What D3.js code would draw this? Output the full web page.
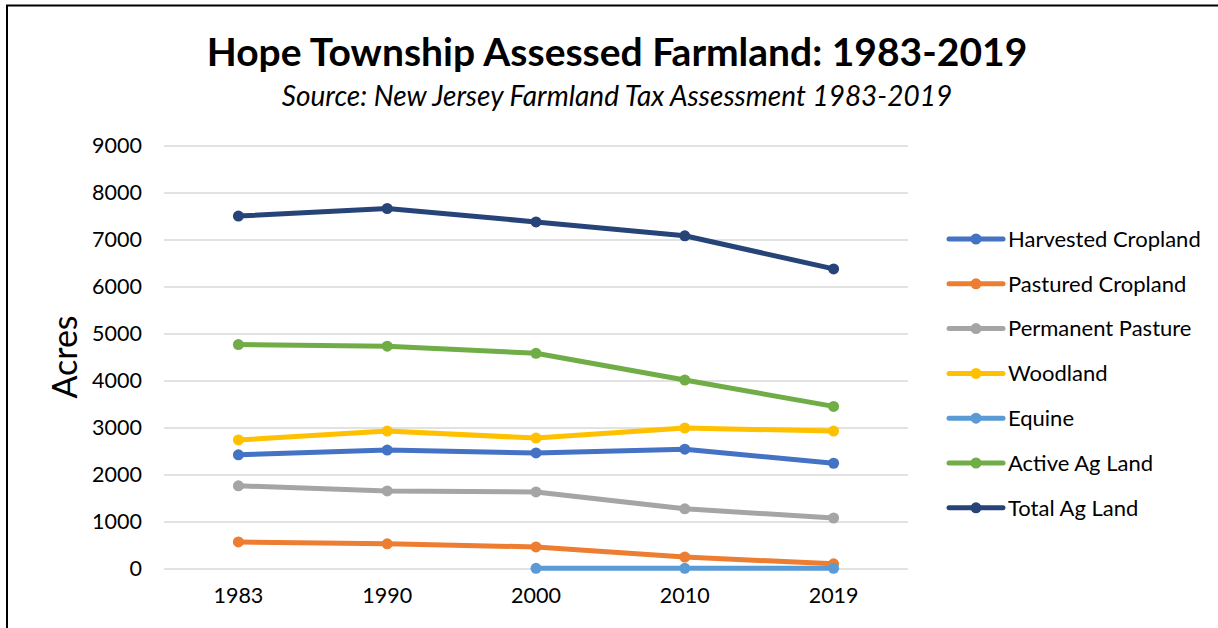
<!DOCTYPE html>
<html>
<head>
<meta charset="utf-8">
<script src="https://cdn.jsdelivr.net/npm/d3@7"></script>
<style>
  body { margin: 0; background: #fff; }
  text { font-family: Lato, "Open Sans", sans-serif; fill: #000; }
</style>
</head>
<body>
<div id="chart"></div>
<script>
var years = ["1983", "1990", "2000", "2010", "2019"];
var yTicks = [0, 1000, 2000, 3000, 4000, 5000, 6000, 7000, 8000, 9000];

var harvested = [2430, 2530, 2470, 2550, 2250];
var pastured = [575, 535, 470, 255, 110];
var permanent = [1770, 1660, 1640, 1280, 1085];
var woodland = [2745, 2935, 2785, 3000, 2935];
var equine = [null, null, 15, 15, 15];
var activeAg = [4775, 4740, 4590, 4020, 3460];
var totalAg = [7510, 7670, 7385, 7090, 6385];

var seriesNames = ["Harvested Cropland", "Pastured Cropland", "Permanent Pasture", "Woodland", "Equine", "Active Ag Land", "Total Ag Land"];
var seriesColors = ["#4472c4", "#ed7d31", "#a5a5a5", "#ffc000", "#5b9bd5", "#70ad47", "#264478"];

var series = [harvested, pastured, permanent, woodland, equine, activeAg, totalAg].map(function (vals, i) {
    return {
        name: seriesNames[i],
        color: seriesColors[i],
        values: vals.map(function (v, j) { return {year: years[j], value: v}; })
            .filter(function (d) { return d.value !== null; })
    };
});

var W = 1218, H = 628;
var margin = {top: 146, right: 310, bottom: 59, left: 164};
var width = W - margin.left - margin.right;
var height = H - margin.top - margin.bottom;

var svg = d3.select("#chart").append("svg")
    .attr("width", W)
    .attr("height", H);

// outer border (left + top)
svg.append("path")
    .attr("d", "M7,628 V5.5 H1218")
    .attr("fill", "none")
    .attr("stroke", "#000")
    .attr("stroke-width", 2);

svg.append("text")
    .attr("x", 617).attr("y", 66)
    .attr("text-anchor", "middle")
    .style("font-size", "39px")
    .style("font-weight", "bold")
    .text("Hope Township Assessed Farmland: 1983-2019");

svg.append("text")
    .attr("x", 617).attr("y", 106)
    .attr("text-anchor", "middle")
    .style("font-size", "28px")
    .style("font-style", "italic")
    .text("Source: New Jersey Farmland Tax Assessment 1983-2019");

var g = svg.append("g")
    .attr("transform", "translate(" + margin.left + "," + margin.top + ")");

var x = d3.scaleBand().domain(years).range([0, width]);
var y = d3.scaleLinear().domain([0, 9000]).range([height, 0]);

// gridlines
g.append("g")
    .selectAll("line")
    .data(yTicks)
    .enter().append("line")
    .attr("x1", 0).attr("x2", width)
    .attr("y1", function (d) { return y(d); })
    .attr("y2", function (d) { return y(d); })
    .attr("stroke", "#d9d9d9")
    .attr("stroke-width", 1.5);

var yAxis = g.append("g")
    .call(d3.axisLeft(y).tickValues(yTicks).tickFormat(d3.format("d")).tickSize(0).tickPadding(22));
yAxis.select(".domain").remove();
yAxis.selectAll("text").style("font-size", "21.5px").style("font-family", "Lato, sans-serif");

var xAxis = g.append("g")
    .attr("transform", "translate(0," + height + ")")
    .call(d3.axisBottom(x).tickSize(0).tickPadding(19));
xAxis.select(".domain").remove();
xAxis.selectAll("text").style("font-size", "21.5px").style("font-family", "Lato, sans-serif");

svg.append("text")
    .attr("transform", "translate(77,357) rotate(-90)")
    .attr("text-anchor", "middle")
    .style("font-size", "34px")
    .text("Acres");

var line = d3.line()
    .x(function (d) { return x(d.year) + x.bandwidth() / 2; })
    .y(function (d) { return y(d.value); });

series.forEach(function (s) {
    var sg = g.append("g");
    sg.append("path")
        .datum(s.values)
        .attr("d", line)
        .attr("fill", "none")
        .attr("stroke", s.color)
        .attr("stroke-width", 5)
        .attr("stroke-linejoin", "round")
        .attr("stroke-linecap", "round");
    sg.selectAll("circle")
        .data(s.values)
        .enter().append("circle")
        .attr("cx", function (d) { return x(d.year) + x.bandwidth() / 2; })
        .attr("cy", function (d) { return y(d.value); })
        .attr("r", 5.5)
        .attr("fill", s.color);
});

// legend
var legend = svg.selectAll(".legend")
    .data(series)
    .enter().append("g")
    .attr("class", "legend")
    .attr("transform", function (d, i) { return "translate(949," + (239 + i * 44.8) + ")"; });

legend.append("line")
    .attr("x1", 0).attr("x2", 54)
    .attr("stroke", function (d) { return d.color; })
    .attr("stroke-width", 5)
    .attr("stroke-linecap", "round");

legend.append("circle")
    .attr("cx", 27).attr("r", 5.5)
    .attr("fill", function (d) { return d.color; });

legend.append("text")
    .attr("x", 59).attr("dy", "0.35em")
    .style("font-size", "22px")
    .text(function (d) { return d.name; });
</script>
</body>
</html>
